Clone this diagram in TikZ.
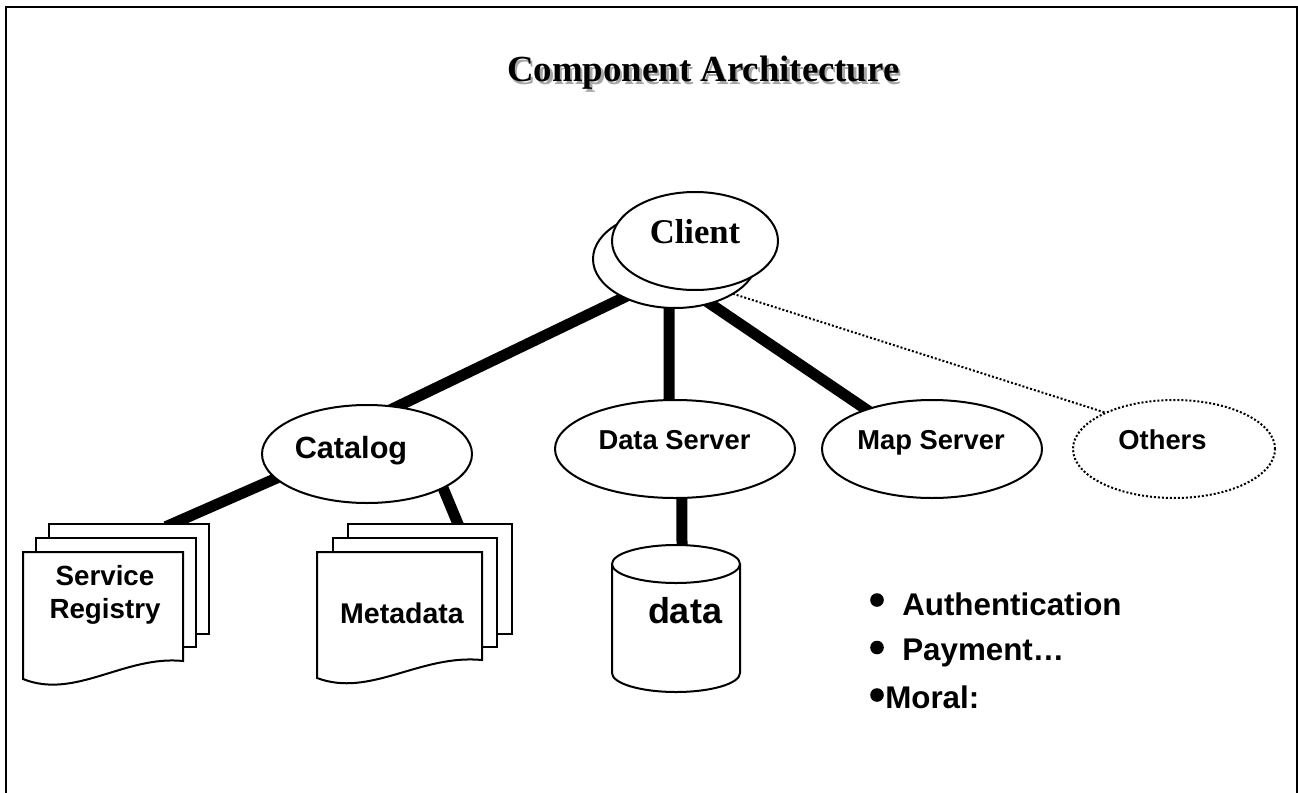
\documentclass[tikz,border=0pt]{standalone}
\usepackage{fontspec}
\setmainfont{Liberation Serif}
\setsansfont{Liberation Sans}
\usetikzlibrary{shapes.geometric}
\pgfdeclarelayer{background}
\pgfsetlayers{background,main}

\begin{document}
\begin{tikzpicture}[x=0.75pt,y=-0.75pt,
  oval/.style={ellipse,draw,line width=1.5pt,fill=white,inner sep=0pt,outer sep=0pt,minimum height=73.5pt},
  dotoval/.style={oval,dash pattern=on 1.5pt off 1.5pt},
  page/.style={rectangle,draw,line width=1.5pt,fill=white,inner sep=0pt,outer sep=0pt},
  frontpage/.style={draw,line width=1.5pt,fill=white,line join=miter},
  link/.style={line width=8.25pt,shorten <=-5pt,shorten >=-5pt},
  dotlink/.style={line width=1.5pt,dash pattern=on 1.5pt off 1.5pt},
  serifbold/.style={inner sep=0pt,anchor=base,font=\fontsize{#1}{#1}\selectfont\bfseries},
  sanslab/.style={inner sep=0pt,anchor=base,font=\sffamily\bfseries\fontsize{#1}{#1}\selectfont},
  bulletdot/.style={fill=black}
]
\useasboundingbox (0,0) rectangle (1298,792);
\clip (0,0) rectangle (1298,792);

% outer frame
\draw[line width=1.8pt] (6,800) -- (6,7) -- (1297,7) -- (1297,800);

% title with drop shadow
\node[serifbold=27.6, anchor=base west, text=black!35] (titleshadow) at (509.5,84.5) {Component Architecture};
\node[serifbold=27.6, anchor=base west] (title) at (507,82) {Component Architecture};

% client (two stacked ellipses)
\node[oval, minimum width=123pt] (client2) at (675,259) {};
\node[oval, minimum width=124.5pt] (client) at (695,241) {};
\node[serifbold=26] (clienttext) at (695,243) {Client};

% service ellipses
\node[oval, minimum width=157.5pt] (catalog) at (367,454) {};
\node[oval, minimum width=180pt] (dserver) at (675,449) {};
\node[oval, minimum width=165pt] (mserver) at (932,449) {};
\node[dotoval, minimum width=151.5pt] (others) at (1174,449) {};

\node[sanslab=23] (catalogtext) at (351,458) {Catalog};
\node[sanslab=20.5] (dservertext) at (674.5,449) {Data Server};
\node[sanslab=20.5] (mservertext) at (931,449) {Map Server};
\node[sanslab=20.5] (otherstext) at (1162.5,449) {Others};

% service registry document stack
\node[page, minimum width=120pt, minimum height=82.5pt] (sr3) at (129,579) {};
\node[page, minimum width=120pt, minimum height=81.75pt] (sr2) at (116,592.5) {};
\path[frontpage] (23,552) -- (183,552) -- (183,661)
  .. controls (125,655) and (75,700) .. (23,679) -- cycle;
\node[sanslab=20.8] (srtexta) at (105,585) {Service};
\node[sanslab=20.8] (srtextb) at (105,618) {Registry};

% metadata document stack
\node[page, minimum width=123pt, minimum height=82.5pt] (md3) at (430,579) {};
\node[page, minimum width=123pt, minimum height=81.75pt] (md2) at (415,592.5) {};
\path[frontpage] (317,552) -- (482,552) -- (482,660)
  .. controls (420,654) and (370,698) .. (317,678) -- cycle;
\node[sanslab=21.4] (mdtext) at (402,623) {Metadata};

% data store cylinder
\coordinate (cyltop) at (682,545);
\path[fill=white] (612,564) -- (612,673) arc[start angle=180,end angle=0,x radius=64,y radius=19] -- (740,564);
\draw[line width=1.5pt] (612,564) -- (612,673) arc[start angle=180,end angle=0,x radius=64,y radius=19] -- (740,564);
\draw[line width=1.5pt,fill=white] (676,564) ellipse [x radius=64,y radius=19];
\node[sanslab=27] (datatext) at (685,623) {data};

% bullet list
\fill[bulletdot] (877,600) circle (6.8);
\fill[bulletdot] (877,647.5) circle (6.8);
\fill[bulletdot] (877,695) circle (6.8);
\node[sanslab=23.5, anchor=base west] (auth) at (902,615) {Authentication};
\node[sanslab=23.5, anchor=base west] (pay) at (902,660) {Payment…};
\node[sanslab=23.5, anchor=base west] (moral) at (885,708) {Moral:};

% connectors
\begin{pgfonlayer}{background}
  \draw[link] (client2.217) -- (catalog.58);
  \draw[link] (client2.263) -- (dserver.97);
  \draw[link] (client2.308) -- (mserver.149);
  \draw[dotlink] (client2.329) -- (others.152);
  \draw[link] (catalog.195) -- (sr3.52);
  \draw[link] (catalog.336) -- (md3.63);
  \draw[link] (dserver.278) -- (cyltop);
\end{pgfonlayer}
\end{tikzpicture}
\end{document}
